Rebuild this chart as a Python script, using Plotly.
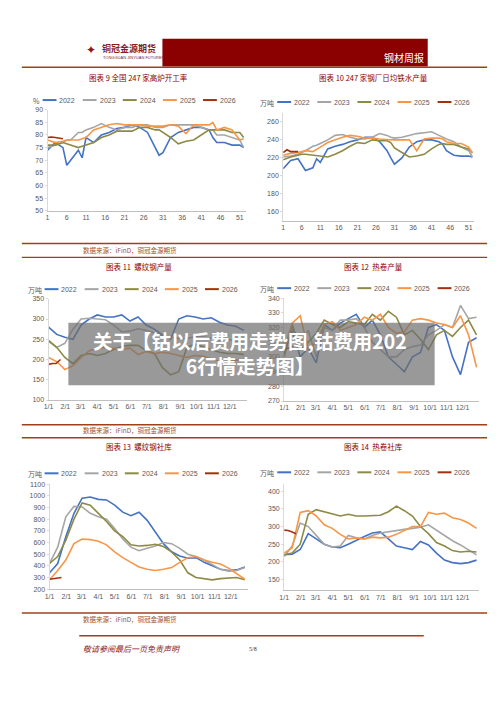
import plotly.graph_objects as go

W, H = 500, 707

YEARS = ["2022", "2023", "2024", "2025", "2026"]
COLORS = ["#4472C4", "#A5A5A5", "#8C8A45", "#F79646", "#A3300F"]

# weekly charts (week number)
weeks = [1, 3, 5, 6, 7, 9, 10, 11, 13, 15, 17, 19, 21, 23, 25, 27, 29, 30, 31,
         33, 35, 37, 39, 41, 43, 44, 45, 47, 49, 51, 52]
weeks_2026 = [1, 2, 3, 4, 5]

bf_rate = [
    [74, 77, 75, 68, 70, 74, 71, 79, 77, 80, 81, 82.5, 83, 84, 83, 81, 75, 72, 73,
     79, 81, 82, 83, 83, 82, 79, 77, 77, 76, 76, 75],
    [75, 76, 77, 78, 78, 81, 81, 82, 83, 84.5, 83, 82, 83, 83, 84, 84, 83, 83, 83,
     84, 84, 84, 84, 83, 82, 82, 80, 80, 79, 78, 75],
    [76, 76, 77, 76.5, 76, 75, 75.5, 76, 77, 79, 80, 81.5, 81.5, 81.5, 83, 83, 82, 82, 81,
     79, 76.5, 77.5, 78, 80, 82, 82, 82, 82, 81, 81, 79],
    [78, 77, 77.5, 78, 78, 78, 78.5, 79, 82, 83, 84, 84.5, 84, 84, 84, 83.5, 83.5, 83.5, 83.5,
     84, 83.5, 80.5, 84, 84, 84, 85, 82, 83, 82, 78, 78.5],
    [79, 79.2, 79, 78.8, 78.5],
]

hot_metal = [
    [208, 217, 219, 213, 206, 209, 219, 215, 230, 233, 235, 238, 240, 243, 243, 238, 228, 220, 213,
     220, 232, 238, 240, 240, 238, 235, 228, 223, 222, 222, 221],
    [221, 222, 224, 226, 228, 233, 234, 236, 240, 245, 246, 243, 241, 241, 243, 247, 245, 243, 242,
     243, 245, 247, 248, 249, 245, 243, 241, 238, 232, 228, 221],
    [218, 221, 223, 224, 224, 223, 222, 222, 221, 224, 228, 233, 237, 236, 240, 239, 239, 237, 231,
     226, 221, 222, 224, 230, 235, 236, 235, 235, 232, 230, 226],
    [223, 225, 226, 227, 228, 227, 230, 232, 237, 240, 243, 245, 244, 242, 242, 241, 240, 240, 240,
     240, 240, 228, 241, 242, 242, 241, 238, 236, 236, 232, 225],
    [226, 229, 227, 227, 227],
]

# date charts (day of year)
days = [0, 15, 30, 45, 60, 75, 90, 105, 120, 135, 150, 165, 180, 195, 210, 225, 240,
        255, 270, 285, 300, 315, 330, 345, 360]
days_2026 = [0, 7, 14, 22]
month_days = [0, 31, 59, 90, 120, 151, 181, 212, 243, 273, 304, 334]
month_labels = ["1/1", "2/1", "3/1", "4/1", "5/1", "6/1", "7/1", "8/1", "9/1", "10/1", "11/1", "12/1"]

rebar_output = [
    [280, 262, 255, 250, 285, 300, 310, 305, 305, 310, 295, 305, 285, 275, 260, 250, 300,
     308, 305, 300, 303, 292, 285, 282, 272],
    [245, 230, 240, 275, 300, 302, 300, 298, 285, 268, 270, 276, 272, 265, 258, 255, 252,
     252, 256, 256, 252, 248, 250, 246, 242],
    [247, 230, 205, 190, 210, 215, 210, 215, 225, 232, 235, 235, 222, 215, 180, 162, 170,
     230, 238, 232, 225, 218, 215, 215, 212],
    [205, 195, 175, 185, 205, 222, 228, 230, 228, 225, 228, 212, 220, 214, 218, 215, 210,
     205, 210, 208, 202, 195, 193, 198, 200],
    [188, 190, 190, 200],
]

hrc_output = [
    [302, 318, 300, 306, 296, 322, 318, 323, 326, 329, 320, 325, 315, 300, 295, 290, 300,
     303, 320, 322, 318, 300, 288, 310, 313],
    [305, 320, 310, 318, 300, 320, 318, 325, 325, 326, 320, 310, 305, 300, 300, 305, 307,
     308, 315, 318, 322, 320, 335, 326, 327],
    [300, 322, 305, 310, 316, 325, 322, 320, 324, 323, 322, 329, 325, 331, 327, 315, 318,
     312, 305, 315, 318, 314, 320, 325, 315],
    [305, 323, 328, 305, 310, 322, 324, 318, 320, 322, 327, 325, 329, 320, 316, 317, 325,
     326, 325, 323, 322, 320, 328, 315, 293],
    [305, 306, 307, 308],
]

rebar_stock = [
    [340, 420, 650, 850, 980, 990, 970, 965, 920, 860, 830, 860, 790, 690, 590, 520, 485,
     465, 470, 430, 400, 370, 360, 365, 390],
    [420, 560, 820, 910, 905, 850, 820, 800, 720, 630, 560, 530, 550, 570, 600, 590, 550,
     500, 480, 450, 410, 370, 355, 360, 385],
    [420, 480, 620, 800, 940, 920, 850, 780, 700, 650, 580, 570, 575, 585, 565, 520, 450,
     340, 300, 290, 280, 290, 295, 300, 280],
    [280, 360, 450, 590, 630, 625, 610, 580, 520, 470, 430, 390, 370, 360, 370, 385, 430,
     470, 480, 450, 430, 415, 380, 330, 285],
    [285, 290, 295, 300],
]

hrc_stock = [
    [220, 222, 235, 280, 265, 250, 242, 240, 250, 262, 272, 282, 285, 265, 245, 240, 235,
     258, 248, 225, 205, 198, 195, 198, 205],
    [215, 245, 310, 300, 275, 250, 242, 245, 275, 268, 265, 275, 282, 286, 290, 292, 295,
     298, 305, 290, 275, 260, 248, 235, 220],
    [220, 225, 250, 335, 348, 342, 338, 330, 335, 330, 330, 332, 332, 342, 358, 345, 330,
     300, 280, 255, 245, 232, 228, 230, 228],
    [225, 240, 340, 345, 330, 305, 295, 278, 265, 268, 265, 270, 268, 270, 278, 290, 300,
     300, 340, 335, 338, 325, 320, 310, 295],
    [290, 289, 285, 280],
]


def px(x):
    return x / W


def py(y):
    return 1 - y / H


def note(x, y, text, size, color, anchor="center", family="Noto Sans CJK SC"):
    return dict(x=px(x), y=py(y), text=text, showarrow=False, xref="paper", yref="paper",
                xanchor=anchor, yanchor="middle", font=dict(size=size, color=color, family=family))


# title, unit, series, x, x of 2026, x domain px, y domain px (top, bottom), y range, dtick, weekly?, title pos, legend pos
charts = [
    ("图表 9 全国 247 家高炉开工率", "%", bf_rate, weeks, weeks_2026,
     (43, 243), (106.7, 209), (50, 90), 5, True, (135, 74), (38, 97)),
    ("图表 10 247 家钢厂日均铁水产量", "万吨", hot_metal, weeks, weeks_2026,
     (281, 474), (110, 219), (150, 270), 20, True, (372, 74), (275, 99)),
    ("图表 11  螺纹钢产量", "万吨", rebar_output, days, days_2026,
     (44, 244), (297.7, 400), (100, 350), 50, False, (135, 265), (40, 288)),
    ("图表 12  热卷产量", "万吨", hrc_output, days, days_2026,
     (282, 479), (297, 401), (270, 340), 10, False, (372, 265), (275, 287)),
    ("图表 13  螺纹钢社库", "万吨", rebar_stock, days, days_2026,
     (45, 245), (485, 591), (200, 1100), 100, False, (135, 447), (40, 474)),
    ("图表 14  热卷社库", "万吨", hrc_stock, days, days_2026,
     (282, 479), (485, 592), (120, 420), 50, False, (372, 447), (275, 473)),
]

RED = "#8B0000"
LINE_RED = "#A0401A"

fig = go.Figure()
shapes = []
annotations = []
layout = {}

for i, (title, unit, series, xs, xs26, xd, yd, yr, dtick, weekly, tpos, lpos) in enumerate(charts):
    n = i + 1
    xa = "x" if n == 1 else f"x{n}"
    ya = "y" if n == 1 else f"y{n}"
    for j, year in enumerate(YEARS):
        fig.add_trace(go.Scatter(
            x=xs26 if j == 4 else xs, y=series[j], mode="lines", name=year,
            line=dict(color=COLORS[j], width=1.6), xaxis=xa, yaxis=ya, showlegend=False,
        ))
    if weekly:
        xaxis = dict(range=[1, 52.5], tickvals=list(range(1, 52, 5)))
    else:
        xaxis = dict(range=[0, 365], tickvals=month_days, ticktext=month_labels)
    xaxis.update(domain=[px(xd[0]), px(xd[1])], anchor=ya, showgrid=False, zeroline=False,
                 showline=True, linecolor="#BFBFBF", ticks="", tickfont=dict(size=7, color="#595959"))
    yaxis = dict(domain=[py(yd[1]), py(yd[0])], range=list(yr), dtick=dtick, anchor=xa,
                 showgrid=False, zeroline=False, showline=True, linecolor="#D9D9D9",
                 ticks="outside", ticklen=2, tickcolor="#D9D9D9",
                 tickfont=dict(size=7, color="#595959"))
    layout["xaxis" if n == 1 else f"xaxis{n}"] = xaxis
    layout["yaxis" if n == 1 else f"yaxis{n}"] = yaxis

    annotations.append(note(tpos[0], tpos[1], title, 7.5, RED))
    annotations.append(note(lpos[0] - 1, lpos[1] + 1, unit, 7, "#595959", anchor="right"))
    # manual legend
    for j, year in enumerate(YEARS):
        lx = lpos[0] + j * 40.5
        shapes.append(dict(type="line", xref="paper", yref="paper",
                           x0=px(lx), x1=px(lx + 14), y0=py(lpos[1]), y1=py(lpos[1]),
                           line=dict(color=COLORS[j], width=2)))
        annotations.append(note(lx + 15, lpos[1], year, 7, "#595959", anchor="left",
                                family="Liberation Sans"))

# header
shapes.append(dict(type="rect", xref="paper", yref="paper", x0=px(159), x1=px(427),
                   y0=py(63), y1=py(35), fillcolor="#8B0000", line=dict(width=0)))
annotations.append(note(425, 54, "钢材周报", 10, "white", anchor="right"))
annotations.append(note(96, 45, "<b>铜冠金源期货</b>", 9, "#8B1A1A", anchor="left"))
annotations.append(note(97, 54, "TONGGUAN JINYUAN FUTURES", 4, "#8B1A1A", anchor="left",
                        family="Liberation Sans"))
annotations.append(note(87, 46, "✦", 12, "#8B1A1A", family="DejaVu Sans"))

# separator lines and source notes
for yline, x0, x1, w in [(64, 17, 487, 1.5), (242, 17, 487, 1.5), (256, 17, 487, 1.2),
                         (425, 17, 487, 1.5), (438, 17, 487, 1.5), (615, 17, 487, 1.5),
                         (638, 75, 423, 1.5)]:
    shapes.append(dict(type="line", xref="paper", yref="paper", x0=px(x0), x1=px(x1),
                       y0=py(yline), y1=py(yline), line=dict(color=LINE_RED, width=w)))
for ys in [248, 430, 621]:
    annotations.append(note(77, ys, "数据来源：iFinD，铜冠金源期货", 6.5, "#A0522D", anchor="left"))
annotations.append(note(77, 651, "<i>敬请参阅最后一页免责声明</i>", 8, "#8B1A1A", anchor="left"))
annotations.append(note(250, 651, "5/8", 6, "#333333", family="Liberation Serif"))

# overlay banner
shapes.append(dict(type="rect", xref="paper", yref="paper", x0=px(64), x1=px(434),
                   y0=py(385), y1=py(322), fillcolor="rgba(110,110,110,0.7)", line=dict(width=0)))
annotations.append(note(247, 352, "<b>关于【钴以后费用走势图,钴费用202<br>6行情走势图】</b>", 19.5, "white"))

fig.update_layout(
    width=W, height=H, margin=dict(l=0, r=0, t=0, b=0),
    paper_bgcolor="white", plot_bgcolor="rgba(0,0,0,0)",
    showlegend=False, shapes=shapes, annotations=annotations,
    font=dict(family="Liberation Sans"), **layout,
)

fig.write_html("out.html", config={"displayModeBar": False},
               post_script="document.body.style.margin='0';")
